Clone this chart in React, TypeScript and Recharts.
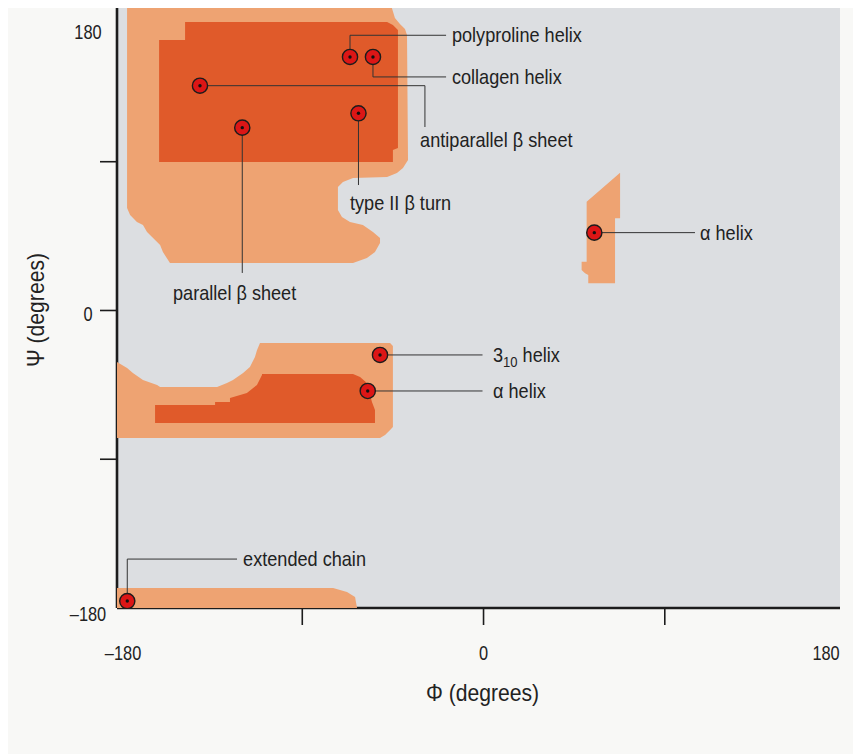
import React from 'react';
import { ComposedChart, Scatter, XAxis, YAxis, CartesianGrid, Label } from 'recharts';

// ---------- data (phi, psi in degrees) ----------
const xDomain = [-182, 177];
const yDomain = [-180, 183];
const xTicks = [-180, -90, 0, 90, 180];
const yTicks = [-180, -90, 0, 90, 180];
const tickMarkValues = [-90, 0, 90];
const tickLabelValues = [-180, 0, 180];

// allowed region outlines
const lightBetaRegion = [
  { phi: -177.0, psi: 183 }, { phi: -45.5, psi: 183 }, { phi: -44.0, psi: 177.0 }, { phi: -41.5, psi: 173.3 },
  { phi: -39.0, psi: 170.3 }, { phi: -38.0, psi: 166.7 }, { phi: -37.5, psi: 91.0 }, { phi: -40.0, psi: 86.2 },
  { phi: -43.0, psi: 83.2 }, { phi: -47.9, psi: 80.8 }, { phi: -64.8, psi: 80.1 }, { phi: -69.8, psi: 77.7 },
  { phi: -72.3, psi: 74.7 }, { phi: -72.3, psi: 60.8 }, { phi: -70.3, psi: 56.6 }, { phi: -66.3, psi: 53.5 },
  { phi: -59.9, psi: 51.7 }, { phi: -54.9, psi: 47.5 }, { phi: -51.4, psi: 43.8 }, { phi: -51.4, psi: 40.8 },
  { phi: -53.9, psi: 35.4 }, { phi: -57.9, psi: 31.7 }, { phi: -64.8, psi: 28.7 }, { phi: -155.7, psi: 28.7 },
  { phi: -157.3, psi: 31.7 }, { phi: -159.2, psi: 35.4 }, { phi: -160.6, psi: 39.6 }, { phi: -164.1, psi: 43.8 },
  { phi: -167.1, psi: 47.5 }, { phi: -169.1, psi: 51.7 }, { phi: -172.1, psi: 53.5 }, { phi: -175.5, psi: 57.8 },
  { phi: -177.0, psi: 62.0 },
];

const darkBetaRegion = [
  { phi: -161.1, psi: 163.6 }, { phi: -148.2, psi: 163.6 }, { phi: -148.2, psi: 174.5 }, { phi: -47.9, psi: 174.5 },
  { phi: -45.0, psi: 172.7 }, { phi: -42.5, psi: 169.7 }, { phi: -42.5, psi: 98.3 }, { phi: -45.0, psi: 97.1 },
  { phi: -45.0, psi: 89.8 }, { phi: -161.1, psi: 89.8 },
];

const lightAlphaRegion = [
  { phi: -182, psi: -31.2 }, { phi: -177.0, psi: -34.8 }, { phi: -174.1, psi: -37.8 }, { phi: -169.1, psi: -42.1 },
  { phi: -162.1, psi: -45.1 }, { phi: -160.6, psi: -46.3 }, { phi: -132.3, psi: -46.3 }, { phi: -127.4, psi: -43.9 },
  { phi: -124.4, psi: -42.1 }, { phi: -119.4, psi: -37.8 }, { phi: -116.0, psi: -34.2 }, { phi: -113.5, psi: -28.2 },
  { phi: -112.5, psi: -24.0 }, { phi: -111.0, psi: -19.7 }, { phi: -46.4, psi: -19.7 }, { phi: -45.0, psi: -21.5 },
  { phi: -45.0, psi: -70.5 }, { phi: -46.4, psi: -72.3 }, { phi: -48.9, psi: -75.3 }, { phi: -51.4, psi: -77.2 },
  { phi: -182, psi: -77.2 },
];

const darkAlphaRegion = [
  { phi: -163.1, psi: -57.2 }, { phi: -133.3, psi: -57.2 }, { phi: -133.3, psi: -55.4 }, { phi: -125.9, psi: -55.4 },
  { phi: -125.9, psi: -52.9 }, { phi: -117.5, psi: -49.9 }, { phi: -112.5, psi: -45.1 }, { phi: -110.0, psi: -39.0 },
  { phi: -110.0, psi: -38.4 }, { phi: -64.8, psi: -38.4 }, { phi: -61.3, psi: -40.2 }, { phi: -57.9, psi: -43.9 },
  { phi: -55.4, psi: -55.4 }, { phi: -53.9, psi: -60.2 }, { phi: -53.9, psi: -68.1 }, { phi: -163.1, psi: -68.1 },
];

const leftHelixRegion = [
  { phi: 67.8, psi: 83.4 }, { phi: 51.2, psi: 65.8 }, { phi: 51.2, psi: 29.5 }, { phi: 48.7, psi: 29.5 },
  { phi: 48.7, psi: 24.5 }, { phi: 50.4, psi: 22.5 }, { phi: 52.0, psi: 21.5 }, { phi: 52.0, psi: 16.4 },
  { phi: 65.3, psi: 16.4 }, { phi: 65.3, psi: 55.8 }, { phi: 67.8, psi: 55.8 },
];

const extendedRegion = [
  { phi: -182, psi: -167.9 }, { phi: -74.7, psi: -167.9 }, { phi: -67.8, psi: -170.3 },
  { phi: -63.8, psi: -173.3 }, { phi: -62.8, psi: -180 }, { phi: -182, psi: -180 },
];

// conformations
const conformations = [
  { name: 'polyproline helix', phi: -66.3, psi: 153.4 },
  { name: 'collagen helix', phi: -54.9, psi: 153.4 },
  { name: 'antiparallel beta sheet', phi: -140.8, psi: 136.0 },
  { name: 'type II beta turn', phi: -62.1, psi: 119.3 },
  { name: 'parallel beta sheet', phi: -119.8, psi: 110.6 },
  { name: 'left alpha helix', phi: 55.0, psi: 47.1 },
  { name: '3-10 helix', phi: -51.4, psi: -26.9 },
  { name: 'alpha helix', phi: -57.5, psi: -48.7 },
  { name: 'extended chain', phi: -176.9, psi: -175.8 },
];

// leader lines
const polyprolineLeader = [{ phi: -66.3, psi: 153.4 }, { phi: -66.3, psi: 166.5 }, { phi: -18.6, psi: 166.5 }];
const collagenLeader = [{ phi: -54.9, psi: 153.4 }, { phi: -54.9, psi: 141.3 }, { phi: -18.6, psi: 141.3 }];
const antiparallelLeader = [{ phi: -140.8, psi: 136.0 }, { phi: -29.1, psi: 136.0 }, { phi: -29.1, psi: 111.0 }];
const turnLeader = [{ phi: -62.1, psi: 119.3 }, { phi: -62.1, psi: 75.9 }];
const parallelLeader = [{ phi: -119.8, psi: 110.6 }, { phi: -119.8, psi: 22.7 }];
const leftHelixLeader = [{ phi: 55.0, psi: 47.1 }, { phi: 105.0, psi: 47.1 }];
const helix310Leader = [{ phi: -51.4, psi: -26.9 }, { phi: -0.5, psi: -26.9 }];
const alphaLeader = [{ phi: -57.5, psi: -48.7 }, { phi: -0.5, psi: -48.7 }];
const extendedLeader = [{ phi: -176.9, psi: -175.8 }, { phi: -176.9, psi: -150.4 }, { phi: -122.4, psi: -150.4 }];
const leaders = [
  polyprolineLeader, collagenLeader, antiparallelLeader, turnLeader, parallelLeader,
  leftHelixLeader, helix310Leader, alphaLeader, extendedLeader,
];

// annotation texts (start of text, vertical centre)
const annotations = [
  { phi: -15.7, psi: 166.5, text: 'polyproline helix' },
  { phi: -15.7, psi: 141.3, text: 'collagen helix' },
  { phi: -31.5, psi: 103.1, text: 'antiparallel \u03B2 sheet' },
  { phi: -66.3, psi: 65.0, text: 'type II \u03B2 turn' },
  { phi: -154.2, psi: 10.6, text: 'parallel \u03B2 sheet' },
  { phi: 107.5, psi: 47.1, text: '\u03B1 helix' },
  { phi: 4.7, psi: -26.9, text: '3', sub: '10', tail: ' helix' },
  { phi: 4.7, psi: -48.7, text: '\u03B1 helix' },
  { phi: -119.4, psi: -150.4, text: 'extended chain' },
];

// ---------- styles ----------
const FONT = "'Liberation Sans', Arial, sans-serif";
const GREY = '#dcdee1';
const LIGHT = '#eea372';
const DARK = '#e05a2a';
const RED = '#dc1616';
const INK = '#1c1c1c';
const TEXT = '#222';

const Empty = () => <g />;

// condensed-looking text (horizontal scale only)
const CText = (props: any) => {
  const { x, y, size, sx, anchor = 'start', rotate = 0, children } = props;
  return (
    <text
      transform={`translate(${x} ${y}) rotate(${rotate}) scale(${sx} 1)`}
      x={0}
      y={0}
      dy="0.36em"
      textAnchor={anchor}
      fontFamily={FONT}
      fontSize={size}
      fill={TEXT}
    >
      {children}
    </text>
  );
};

const MarkerShape = (props: any) => {
  const { cx, cy } = props;
  return (
    <g>
      <circle cx={cx} cy={cy} r={7.6} fill={RED} stroke={INK} strokeWidth={1.4} />
      <circle cx={cx} cy={cy} r={1.7} fill="#111" />
    </g>
  );
};

const TextShape = (props: any) => {
  const { cx, cy, payload } = props;
  return (
    <CText x={cx} y={cy} size={19.5} sx={0.93}>
      {payload.text}
      {payload.sub ? <tspan dy={5} fontSize={14}>{payload.sub}</tspan> : null}
      {payload.tail ? <tspan dy={payload.sub ? -5 : 0}>{payload.tail}</tspan> : null}
    </CText>
  );
};

const fmt = (v: number) => (v < 0 ? '\u2013' + Math.abs(v) : String(v));

const xLabelShift: Record<number, number> = { [-180]: 2, 0: 0, 180: -20 };
const yLabelShift: Record<number, number> = { [-180]: 5, 0: 2.5, 180: 18 };

const XTick = (props: any) => {
  const { x, y, payload } = props;
  const v = payload.value;
  return (
    <g>
      {tickMarkValues.includes(v) ? (
        <line x1={x} x2={x} y1={y} y2={y + 17} stroke={INK} strokeWidth={1.6} />
      ) : null}
      {tickLabelValues.includes(v) ? (
        <CText x={x + (xLabelShift[v] || 0)} y={y + 44} size={21} sx={0.78} anchor="middle">
          {fmt(v)}
        </CText>
      ) : null}
    </g>
  );
};

const YTick = (props: any) => {
  const { x, y, payload } = props;
  const v = payload.value;
  return (
    <g>
      {tickMarkValues.includes(v) ? (
        <line x1={x} x2={x - 17} y1={y} y2={y} stroke={INK} strokeWidth={1.6} />
      ) : null}
      {tickLabelValues.includes(v) ? (
        <CText x={x - 29} y={y + (yLabelShift[v] || 0)} size={21} sx={0.78} anchor="middle">
          {fmt(v)}
        </CText>
      ) : null}
    </g>
  );
};

const regionLine = (fill: string) => ({ fill, stroke: 'none' });

export default function App() {
  return (
    <div style={{ width: 853, height: 746, background: '#f8f8f6' }}>
      <ComposedChart width={853} height={746} margin={{ top: 0, right: 21, bottom: 0, left: 0 }}>
        <CartesianGrid fill={GREY} horizontal={false} vertical={false} stroke="none" />

        <Scatter data={lightBetaRegion} dataKey="psi" line={regionLine(LIGHT)} lineJointType="linear" shape={Empty} isAnimationActive={false} />
        <Scatter data={lightAlphaRegion} dataKey="psi" line={regionLine(LIGHT)} lineJointType="linear" shape={Empty} isAnimationActive={false} />
        <Scatter data={leftHelixRegion} dataKey="psi" line={regionLine(LIGHT)} lineJointType="linear" shape={Empty} isAnimationActive={false} />
        <Scatter data={extendedRegion} dataKey="psi" line={regionLine(LIGHT)} lineJointType="linear" shape={Empty} isAnimationActive={false} />
        <Scatter data={darkBetaRegion} dataKey="psi" line={regionLine(DARK)} lineJointType="linear" shape={Empty} isAnimationActive={false} />
        <Scatter data={darkAlphaRegion} dataKey="psi" line={regionLine(DARK)} lineJointType="linear" shape={Empty} isAnimationActive={false} />

        {leaders.map((pts, i) => (
          <Scatter
            key={'leader' + i}
            data={pts}
            dataKey="psi"
            line={{ stroke: '#333', strokeWidth: 1, fill: 'none' }}
            lineJointType="linear"
            shape={Empty}
            isAnimationActive={false}
          />
        ))}

        <Scatter data={conformations} dataKey="psi" shape={MarkerShape} isAnimationActive={false} />
        <Scatter data={annotations} dataKey="psi" shape={TextShape} isAnimationActive={false} />

        <XAxis
          type="number"
          dataKey="phi"
          domain={xDomain}
          allowDataOverflow
          ticks={xTicks}
          interval={0}
          tickSize={0}
          tickMargin={0}
          tickLine={false}
          tick={XTick}
          height={146}
          axisLine={{ stroke: INK, strokeWidth: 2.6 }}
        >
          <Label
            content={(p: any) => {
              const vb = p.viewBox;
              return (
                <CText x={vb.x + vb.width / 2 + 4} y={vb.y + 85} size={23} sx={0.92} anchor="middle">
                  {'\u03A6 (degrees)'}
                </CText>
              );
            }}
          />
        </XAxis>
        <YAxis
          type="number"
          dataKey="psi"
          domain={yDomain}
          allowDataOverflow
          ticks={yTicks}
          interval={0}
          tickSize={0}
          tickMargin={0}
          tickLine={false}
          tick={YTick}
          width={109}
          axisLine={{ stroke: INK, strokeWidth: 2.6 }}
        >
          <Label
            content={(p: any) => {
              const vb = p.viewBox;
              return (
                <CText x={vb.x + 28} y={vb.y + vb.height / 2 + 2} size={23} sx={0.92} anchor="middle" rotate={-90}>
                  {'\u03A8 (degrees)'}
                </CText>
              );
            }}
          />
        </YAxis>
      </ComposedChart>
    </div>
  );
}
